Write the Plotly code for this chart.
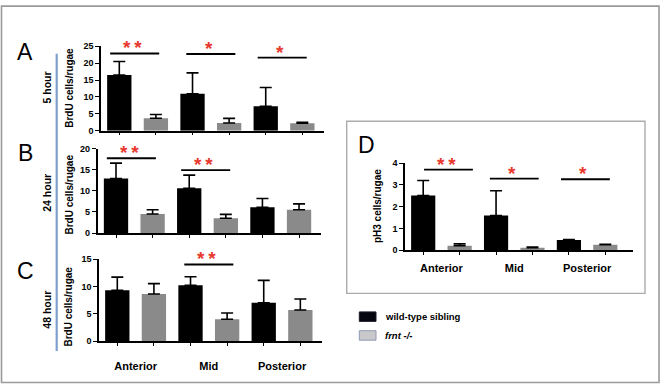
import plotly.graph_objects as go

W, H = 661, 390

def fx(x):
    return x / W

def fy(y):
    return 1 - y / H

# ---------------- data ----------------
categories = ["Anterior", "Mid", "Posterior"]
series_names = ["wild-type sibling", "frnt -/-"]

# A: BrdU 5 hour
A_wt = [16.5, 10.9, 7.2]
A_wt_sem = [4.0, 6.2, 5.6]
A_mut = [3.7, 2.3, 2.2]
A_mut_sem = [1.1, 1.35, 0.3]
A_sig = [(0, "**", 22.85), (1, "*", 22.7), (2, "*", 21.6)]

# B: BrdU 24 hour
B_wt = [12.9, 10.6, 6.1]
B_wt_sem = [3.65, 3.1, 2.05]
B_mut = [4.5, 3.5, 5.5]
B_mut_sem = [1.0, 0.9, 1.4]
B_sig = [(0, "**", 17.7), (1, "**", 14.9)]

# C: BrdU 48 hour
C_wt = [9.3, 10.2, 7.0]
C_wt_sem = [2.4, 1.55, 4.1]
C_mut = [8.6, 4.0, 5.7]
C_mut_sem = [1.9, 1.15, 2.0]
C_sig = [(1, "**", 14.0)]

# D: pH3
D_wt = [2.51, 1.59, 0.47]
D_wt_sem = [0.69, 1.14, 0.02]
D_mut = [0.21, 0.12, 0.25]
D_mut_sem = [0.09, 0.03, 0.02]
D_sig = [(0, "**", 3.7), (1, "*", 3.29), (2, "*", 3.26)]

# ---------------- style ----------------
WT_COLOR = "#000000"
MUT_COLOR = "#8a8a8a"
STAR_COLOR = "#e8392e"
FONT = "Liberation Sans"

panels = [
    dict(key="A", wt=A_wt, wts=A_wt_sem, mut=A_mut, muts=A_mut_sem, sig=A_sig,
         ymax=25, dtick=5, labels=False, xpx=(101, 324.3), ypx=(129, 42.3),
         xr=(-0.5, 2.55), sigshift=[-0.04, 0.0, -0.025],
         ylab="BrdU cells/rugae", ylab_pos=(70, 85), hour="5 hour", hour_pos=(46.7, 85),
         letter_pos=(25, 48)),
    dict(key="B", wt=B_wt, wts=B_wt_sem, mut=B_mut, muts=B_mut_sem, sig=B_sig,
         ymax=20, dtick=5, labels=False, xpx=(97.7, 321), ypx=(234, 147.3),
         xr=(-0.5, 2.55), sigshift=[-0.04, -0.025],
         ylab="BrdU cells/rugae", ylab_pos=(68.5, 195), hour="24 hour", hour_pos=(46.7, 193),
         letter_pos=(25, 152)),
    dict(key="C", wt=C_wt, wts=C_wt_sem, mut=C_mut, muts=C_mut_sem, sig=C_sig,
         ymax=15, dtick=5, labels=True, xpx=(99, 322.3), ypx=(345, 260.7),
         xr=(-0.5, 2.55), sigshift=[0.0], standoff=14,
         ylab="BrdU cells/rugae", ylab_pos=(68.5, 310), hour="48 hour", hour_pos=(46.7, 313),
         letter_pos=(25, 273)),
    dict(key="D", wt=D_wt, wts=D_wt_sem, mut=D_mut, muts=D_mut_sem, sig=D_sig,
         ymax=4, dtick=1, labels=True, xpx=(405, 633), ypx=(251.7, 162.3),
         xr=(-0.5, 2.63), sigshift=[0.097, 0.0, -0.023], standoff=7,
         ylab="pH3 cells/rugae", ylab_pos=(377.7, 206.7), hour=None, hour_pos=None,
         letter_pos=(366.7, 143.3)),
]

fig = go.Figure()
annotations = []
shapes = []
layout = {}

cat_pos = list(range(len(categories)))
bar_centers = [c + off for c in cat_pos for off in (-0.25, 0.25)]

for i, p in enumerate(panels):
    n = "" if i == 0 else str(i + 1)
    xa, ya = "x" + n, "y" + n
    for name, vals, sem, col in ((series_names[0], p["wt"], p["wts"], WT_COLOR),
                                 (series_names[1], p["mut"], p["muts"], MUT_COLOR)):
        fig.add_trace(go.Bar(
            x=cat_pos, y=vals, name=name, marker=dict(color=col, line=dict(width=0)),
            error_y=dict(type="data", array=sem, arrayminus=[0] * len(sem), symmetric=False,
                         color="black", thickness=1.6, width=6),
            xaxis=xa, yaxis=ya, showlegend=False,
        ))
    layout["xaxis" + n] = dict(
        domain=[fx(p["xpx"][0]), fx(p["xpx"][1])], range=list(p["xr"]), anchor=ya,
        showline=True, linecolor="black", linewidth=1.6, showgrid=False, zeroline=False,
        tickmode="array", tickvals=cat_pos, ticktext=categories, ticks="", ticklen=0,
        showticklabels=p["labels"], ticklabelstandoff=p.get("standoff", 0),
        tickfont=dict(family=FONT, size=11, color="black", weight="bold"),
        minor=dict(tickmode="array", tickvals=bar_centers, ticks="outside", ticklen=3,
                   tickwidth=1.4, tickcolor="black", showgrid=False),
        fixedrange=True,
    )
    layout["yaxis" + n] = dict(
        domain=[fy(p["ypx"][0]), fy(p["ypx"][1])], range=[0, p["ymax"]], anchor=xa,
        showline=True, linecolor="black", linewidth=1.6, showgrid=False, zeroline=False,
        tickmode="linear", tick0=0, dtick=p["dtick"], ticks="outside", ticklen=4,
        tickwidth=1.4, tickcolor="black",
        tickfont=dict(family=FONT, size=9, color="black", weight="bold"),
        fixedrange=True,
    )
    # significance bars
    for (ci, label, level), sh in zip(p["sig"], p["sigshift"]):
        c = cat_pos[ci] + sh
        shapes.append(dict(type="line", xref=xa, yref=ya, x0=c - 0.335, x1=c + 0.335,
                           y0=level, y1=level, line=dict(color="black", width=1.8)))
        annotations.append(dict(xref=xa, yref=ya, x=c - 0.03, y=level,
                                text=label.replace("**", "*\u2009*"),
                                showarrow=False, xanchor="center", yanchor="bottom", yshift=-7,
                                font=dict(family=FONT, size=19, color=STAR_COLOR, weight="bold")))
    # labels
    annotations.append(dict(xref="paper", yref="paper", x=fx(p["ylab_pos"][0]), y=fy(p["ylab_pos"][1]),
                            text=p["ylab"], textangle=-90, showarrow=False,
                            xanchor="center", yanchor="middle",
                            font=dict(family=FONT, size=10, color="black", weight="bold")))
    if p["hour"]:
        annotations.append(dict(xref="paper", yref="paper", x=fx(p["hour_pos"][0]), y=fy(p["hour_pos"][1]),
                                text=p["hour"], textangle=-90, showarrow=False,
                                xanchor="center", yanchor="middle",
                                font=dict(family=FONT, size=10.5, color="black", weight="bold")))
    annotations.append(dict(xref="paper", yref="paper", x=fx(p["letter_pos"][0]), y=fy(p["letter_pos"][1]),
                            text=p["key"], showarrow=False, xanchor="center", yanchor="middle",
                            font=dict(family=FONT, size=23, color="black")))

# outer frame, D box, blue separator
shapes.append(dict(type="rect", xref="paper", yref="paper", x0=fx(1.5), x1=fx(659), y0=fy(387.5), y1=fy(1.2),
                   line=dict(color="#9a9a9a", width=1.6)))
shapes.append(dict(type="rect", xref="paper", yref="paper", x0=fx(346.7), x1=fx(645), y0=fy(296), y1=fy(119.3),
                   line=dict(color="#ababab", width=1.4)))
shapes.append(dict(type="line", xref="paper", yref="paper", x0=fx(56.7), x1=fx(56.7), y0=fy(355), y1=fy(50),
                   line=dict(color="#7f9fcf", width=2.2)))

# legend
legend_items = [(series_names[0], "#05050f", "#1a1a2a", "<b>%s</b>"),
                (series_names[1], "#c9c9cc", "#8d99b3", "<b><i>%s</i></b>")]
for k, (name, fill, edge, fmt) in enumerate(legend_items):
    y0 = 315 + k * 19.3
    shapes.append(dict(type="rect", xref="paper", yref="paper", x0=fx(359.3), x1=fx(376),
                       y0=fy(y0 + 9.7), y1=fy(y0), fillcolor=fill, line=dict(color=edge, width=1)))
    annotations.append(dict(xref="paper", yref="paper", x=fx(382.5), y=fy(y0 + 4.6),
                            xanchor="left", yanchor="middle",
                            text=fmt % name, showarrow=False,
                            font=dict(family=FONT, size=9.5, color="black")))

fig.update_layout(
    width=W, height=H, margin=dict(l=0, r=0, t=0, b=0),
    paper_bgcolor="white", plot_bgcolor="white",
    barmode="group", bargap=0, bargroupgap=0.336,
    showlegend=False, shapes=shapes, annotations=annotations,
    **layout,
)

fig.write_html("out.html", config={"displayModeBar": False},
               post_script="document.body.style.margin='0';document.body.style.overflow='hidden';")
